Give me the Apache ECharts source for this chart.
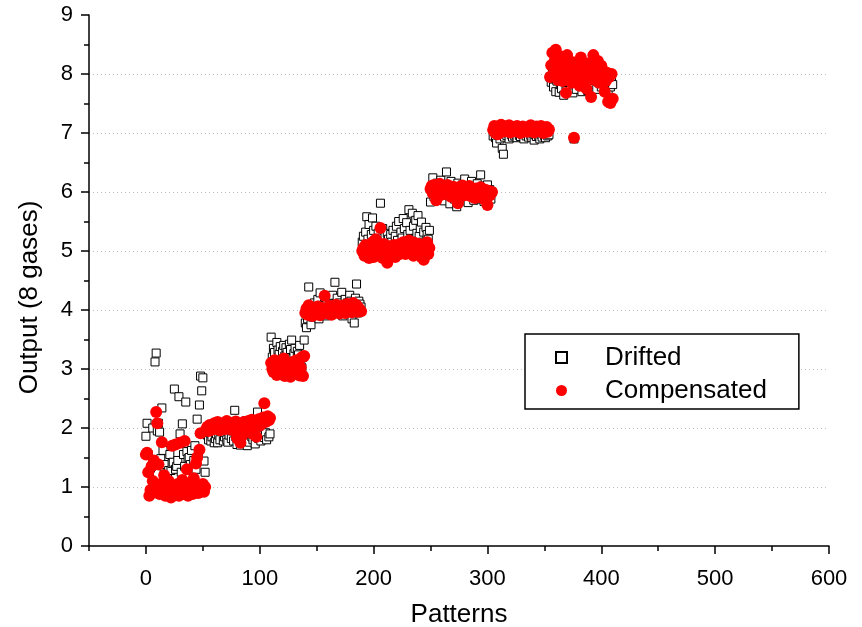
<!DOCTYPE html>
<html>
<head>
<meta charset="utf-8">
<script src="https://cdn.jsdelivr.net/npm/echarts@6/dist/echarts.min.js"></script>
<style>
  html, body { margin: 0; padding: 0; background: #fff; }
  #chart { width: 862px; height: 627px; }
</style>
</head>
<body>
<div id="chart"></div>
<script>
// Sensor array output for 8 gases: raw (drifted) vs drift-compensated values.
// Each gas occupies a consecutive run of pattern numbers starting at gasStart[i].
const gasStart = [0, 53, 110, 140, 190, 250, 305, 355];

const driftedGas1 = [1.86, 2.08, 1.55, 1.25, 1.32, 1.35, 2.00, 1.42, 3.12, 3.27,
  1.95, 2.08, 1.93, 1.48, 2.34, 1.62, 1.30, 1.22, 1.38, 1.22,
  1.28, 1.55, 1.28, 1.40, 1.42, 2.66, 1.30, 1.35, 1.45, 2.53,
  1.90, 1.25, 2.07, 1.55, 1.35, 2.44, 1.60, 1.48, 1.50, 1.38,
  1.62, 1.28, 1.45, 1.70, 1.30, 2.15, 1.55, 2.39, 2.88, 2.63,
  2.85, 1.44, 1.25];
const driftedGas2 = [1.95, 1.88, 1.80, 1.92, 1.78, 1.85, 2.05, 1.75, 1.82, 1.90,
  1.75, 1.88, 1.80, 1.95, 2.02, 1.78, 1.85, 1.92, 1.80, 1.76,
  1.88, 2.10, 1.82, 1.95, 1.78, 2.30, 1.85, 1.72, 1.90, 1.80,
  1.71, 1.86, 1.95, 1.78, 1.82, 2.12, 1.70, 1.88, 1.76, 1.92,
  1.85, 1.80, 2.05, 1.73, 1.90, 2.27, 1.82, 1.95, 1.78, 2.15,
  1.88, 1.84, 1.92, 1.80, 2.18, 1.85, 1.90];
const driftedGas3 = [3.54, 3.20, 3.35, 3.28, 3.10, 3.45, 3.32, 3.25, 3.38, 3.15,
  3.30, 3.40, 3.22, 3.36, 3.28, 3.05, 3.42, 3.33, 3.49, 3.18,
  3.26, 3.35, 3.12, 3.30, 3.24, 3.40, 3.15, 3.02, 3.20, 3.49];
const driftedGas4 = [3.78, 3.70, 3.85, 4.39, 3.95, 3.75, 4.05, 3.88, 4.12, 3.92,
  4.00, 4.18, 3.85, 4.29, 4.08, 3.95, 4.02, 4.22, 3.90, 4.10,
  3.98, 4.15, 4.05, 3.92, 4.25, 4.10, 4.47, 4.00, 4.20, 3.95,
  4.12, 4.05, 4.30, 3.90, 4.08, 4.18, 3.98, 4.12, 4.02, 4.25,
  4.15, 3.85, 4.05, 3.78, 4.20, 4.44, 3.95, 4.15, 4.10, 4.05];
const driftedGas5 = [5.15, 5.25, 5.05, 5.32, 5.58, 5.20, 5.45, 5.10, 5.28, 5.56,
  5.35, 5.18, 5.42, 5.05, 5.30, 5.15, 5.81, 5.22, 5.38, 5.08,
  5.25, 5.12, 5.30, 5.20, 5.05, 5.28, 5.15, 5.35, 5.10, 5.25,
  5.42, 5.18, 5.50, 5.05, 5.32, 5.22, 5.55, 5.38, 5.15, 5.48,
  5.28, 5.70, 5.35, 5.20, 5.64, 5.42, 5.10, 5.52, 5.30, 5.60,
  5.25, 5.38, 5.49, 5.15, 5.32, 5.05, 5.40, 5.28, 5.20, 5.35];
const driftedGas6 = [5.83, 6.05, 6.24, 5.92, 6.10, 5.88, 6.15, 5.98, 6.02, 6.20,
  5.90, 6.08, 5.85, 6.12, 6.34, 5.95, 6.05, 5.80, 6.18, 5.98,
  6.10, 5.88, 6.02, 5.75, 6.15, 5.92, 6.06, 5.85, 6.12, 5.97,
  6.22, 5.90, 6.04, 5.82, 6.10, 5.95, 6.18, 6.00, 5.86, 6.08,
  5.93, 6.14, 5.88, 6.02, 6.29, 5.96, 6.10, 5.84, 6.05, 5.92,
  6.12, 5.98, 6.04, 5.88, 6.00];
const driftedGas7 = [6.95, 7.02, 6.92, 6.83, 7.00, 6.96, 6.90, 7.04, 6.74, 6.64,
  6.93, 7.02, 6.96, 7.00, 6.90, 7.04, 6.97, 6.93, 7.01, 6.95,
  6.98, 6.92, 7.03, 6.96, 6.94, 7.00, 6.97, 6.90, 7.02, 6.95,
  6.99, 6.93, 7.04, 6.96, 6.92, 7.00, 6.88, 6.97, 6.94, 7.02,
  6.95, 6.90, 6.98, 6.93, 7.01, 6.96, 6.92, 6.99, 6.95, 6.97];
const driftedGas8 = [7.95, 7.86, 8.05, 7.78, 7.92, 7.70, 7.88, 8.10, 7.69, 7.82,
  7.75, 7.95, 7.64, 8.02, 7.80, 7.72, 7.90, 8.15, 7.76, 7.85,
  7.68, 6.90, 7.98, 7.74, 7.88, 8.08, 7.80, 7.92, 7.70, 7.84,
  8.00, 7.78, 7.90, 7.72, 8.12, 7.86, 7.95, 7.76, 8.05, 7.82,
  7.90, 7.74, 7.98, 7.85, 8.02, 7.78, 7.92, 7.88, 7.80, 7.95,
  7.86, 7.73, 7.90, 7.78, 7.86, 7.82];

const compensatedGas1 = [1.55, 1.58, 1.25, 0.85, 0.95, 1.35, 1.10, 1.45, 0.92, 2.27,
  2.08, 1.38, 0.88, 1.05, 1.76, 0.95, 1.20, 0.85, 1.00, 0.92,
  1.10, 0.90, 0.82, 1.70, 1.00, 0.88, 1.72, 0.95, 1.05, 0.85,
  1.75, 0.90, 1.12, 0.88, 1.78, 0.95, 1.30, 0.85, 1.00, 0.92,
  1.05, 0.88, 1.15, 0.98, 1.40, 1.50, 0.90, 1.63, 1.91, 0.95,
  1.05, 0.92, 1.00];
const compensatedGas2 = [1.98, 2.02, 1.95, 2.05, 2.00, 1.97, 2.03, 2.08, 1.99, 2.04,
  2.10, 2.01, 1.96, 2.06, 2.02, 2.08, 1.98, 2.04, 2.12, 2.00,
  2.06, 2.03, 1.97, 2.09, 2.05, 2.01, 2.11, 1.83, 2.06, 1.98,
  1.75, 2.04, 1.88, 2.10, 2.02, 2.07, 1.99, 2.12, 2.05, 2.08,
  2.14, 1.90, 2.06, 2.11, 1.85, 2.09, 2.15, 2.04, 2.12, 2.08,
  2.18, 2.42, 2.10, 2.16, 2.20, 2.13, 2.17];
const compensatedGas3 = [3.10, 3.00, 2.95, 3.15, 3.05, 2.90, 3.08, 2.98, 3.12, 2.92,
  3.05, 3.18, 2.88, 3.02, 3.10, 2.95, 3.06, 2.87, 3.00, 3.12,
  2.93, 3.04, 3.15, 2.97, 3.08, 2.89, 3.02, 3.20, 2.88, 3.22];
const compensatedGas4 = [3.95, 4.02, 3.92, 4.08, 3.98, 4.05, 3.90, 4.00, 3.96, 4.03,
  3.93, 4.06, 3.99, 3.91, 4.04, 4.00, 3.95, 4.24, 3.97, 4.02,
  3.94, 4.07, 3.99, 3.92, 4.05, 4.01, 3.96, 4.09, 3.98, 4.03,
  3.94, 4.06, 4.00, 3.97, 4.08, 3.95, 4.04, 4.10, 3.99, 4.02,
  4.06, 3.96, 4.12, 4.00, 4.05, 4.08, 3.97, 4.03, 4.00, 3.98];
const compensatedGas5 = [5.00, 5.05, 4.92, 5.10, 4.95, 5.02, 4.88, 5.08, 4.98, 5.15,
  4.90, 5.04, 5.20, 4.96, 5.06, 4.93, 5.39, 5.00, 4.88, 5.12,
  4.95, 5.05, 4.80, 4.98, 5.08, 4.92, 5.02, 4.96, 5.10, 4.90,
  5.04, 5.00, 4.94, 5.12, 5.06, 4.98, 5.15, 5.02, 4.95, 5.08,
  5.00, 5.18, 4.96, 5.05, 5.10, 4.92, 5.14, 5.03, 4.98, 5.08,
  5.12, 5.00, 4.90, 5.06, 4.85, 5.10, 5.02, 5.15, 4.95, 5.05];
const compensatedGas6 = [6.05, 6.10, 5.98, 6.12, 6.02, 5.86, 6.08, 6.00, 6.14, 5.95,
  6.06, 6.01, 6.10, 5.97, 6.04, 6.12, 5.99, 6.07, 5.92, 6.03,
  6.09, 5.96, 6.05, 6.01, 5.81, 6.08, 5.98, 6.04, 6.11, 5.94,
  6.02, 6.07, 5.96, 6.00, 6.10, 5.93, 6.05, 5.99, 6.03, 5.90,
  6.06, 5.97, 6.02, 5.92, 6.08, 5.95, 6.00, 5.88, 6.04, 5.96,
  5.78, 6.02, 5.94, 5.98, 6.00];
const compensatedGas7 = [7.05, 7.12, 7.00, 7.08, 6.98, 7.10, 7.04, 7.14, 7.02, 7.07,
  7.11, 7.03, 7.09, 7.06, 7.13, 7.01, 7.08, 7.05, 7.10, 7.03,
  7.07, 7.12, 7.04, 7.09, 7.00, 7.06, 7.11, 7.03, 7.08, 7.05,
  7.02, 7.10, 7.06, 7.13, 7.04, 7.08, 7.01, 7.07, 7.11, 7.05,
  7.09, 7.03, 7.12, 7.06, 7.00, 7.08, 7.04, 7.10, 7.02, 7.06];
const compensatedGas8 = [7.95, 8.15, 8.36, 8.00, 8.22, 8.41, 8.05, 7.90, 8.18, 8.30,
  8.02, 7.88, 8.25, 8.10, 7.68, 8.32, 7.96, 8.12, 8.05, 7.85,
  8.20, 6.92, 8.08, 7.92, 8.15, 8.02, 7.80, 8.28, 7.98, 8.10,
  7.88, 8.06, 7.75, 8.18, 7.95, 8.12, 7.61, 8.04, 8.32, 7.90,
  8.08, 7.98, 8.22, 7.85, 8.00, 8.14, 7.92, 8.05, 7.70, 7.88,
  8.02, 7.53, 7.95, 7.51, 8.00, 7.58];

const xMajorTicks = [0, 100, 200, 300, 400, 500, 600];
const xMinorTicks = [-50, 50, 150, 250, 350, 450, 550];

const driftedByGas = [driftedGas1, driftedGas2, driftedGas3, driftedGas4,
  driftedGas5, driftedGas6, driftedGas7, driftedGas8];
const compensatedByGas = [compensatedGas1, compensatedGas2, compensatedGas3, compensatedGas4,
  compensatedGas5, compensatedGas6, compensatedGas7, compensatedGas8];

// [pattern number, output] pairs
function toPoints(groups) {
  const pts = [];
  groups.forEach((vals, g) => {
    vals.forEach((v, i) => pts.push([gasStart[g] + i, v]));
  });
  return pts;
}

const FONT = "'Liberation Sans', Arial, sans-serif";
const chart = echarts.init(document.getElementById('chart'), null, { renderer: 'canvas' });

chart.setOption({
  animation: false,
  backgroundColor: '#ffffff',
  grid: { left: 89, right: 33, top: 15, bottom: 81, containLabel: false, outerBoundsMode: 'none' },
  xAxis: [{
    type: 'value', min: -50, max: 600,
    name: 'Patterns', nameLocation: 'middle', nameGap: 56,
    nameTextStyle: { fontFamily: FONT, fontSize: 26, color: '#000' },
    axisLine: { show: true, onZero: false, lineStyle: { color: '#000', width: 1.5 } },
    axisTick: { show: true, inside: false, length: 8, customValues: xMajorTicks, lineStyle: { color: '#000', width: 1.5 } },
    axisLabel: { show: true, customValues: xMajorTicks, margin: 22, fontFamily: FONT, fontSize: 22, color: '#000' },
    splitLine: { show: false }
  }, {
    type: 'value', min: -50, max: 600, position: 'bottom',
    axisLine: { show: false },
    axisTick: { show: true, inside: false, length: 5, customValues: xMinorTicks, lineStyle: { color: '#000', width: 1.5 } },
    axisLabel: { show: false },
    splitLine: { show: false }
  }],
  yAxis: {
    type: 'value', min: 0, max: 9, interval: 1,
    name: 'Output (8 gases)', nameLocation: 'middle', nameGap: 46, nameRotate: 90,
    nameTextStyle: { fontFamily: FONT, fontSize: 26, color: '#000', padding: [0, 34, 0, 0] },
    axisLine: { show: true, onZero: false, lineStyle: { color: '#000', width: 1.5 } },
    axisTick: { show: true, inside: false, length: 8, lineStyle: { color: '#000', width: 1.5 } },
    minorTick: { show: true, splitNumber: 2, length: 5, lineStyle: { color: '#000', width: 1.5 } },
    axisLabel: { margin: 16, fontFamily: FONT, fontSize: 22, color: '#000' },
    splitLine: { show: true, showMinLine: false, showMaxLine: false,
      lineStyle: { color: '#bdbdbd', type: [1, 3], width: 1 } },
    minorSplitLine: { show: false }
  },
  legend: {
    orient: 'vertical', left: 525, top: 334,
    padding: [7, 32, 2, 30],
    itemGap: 0, itemWidth: 11, itemHeight: 11,
    borderColor: '#000', borderWidth: 1.5, backgroundColor: '#fff',
    textStyle: { fontFamily: FONT, fontSize: 26, color: '#000', lineHeight: 33, padding: [0, 0, 0, 33] },
    data: ['Drifted', 'Compensated']
  },
  series: [{
    name: 'Drifted', type: 'scatter', xAxisIndex: 0,
    symbol: 'rect', symbolSize: 8,
    itemStyle: { color: '#ffffff', borderColor: '#000', borderWidth: 1, opacity: 1 },
    z: 2,
    data: toPoints(driftedByGas)
  }, {
    name: 'Compensated', type: 'scatter', xAxisIndex: 0,
    symbol: 'circle', symbolSize: 12,
    itemStyle: { color: '#ff0000', opacity: 1 },
    z: 3,
    data: toPoints(compensatedByGas)
  }]
});
</script>
</body>
</html>
